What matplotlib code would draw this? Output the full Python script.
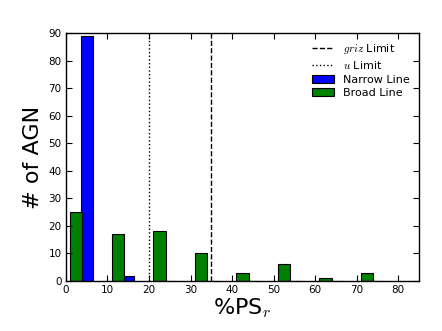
import matplotlib
matplotlib.use("Agg")
import matplotlib.pyplot as plt
import numpy as np

plt.rcParams['mathtext.fontset'] = 'cm'
plt.rcParams['font.family'] = 'DejaVu Sans'

bin_left = np.array([0, 10, 20, 30, 40, 50, 60, 70])
narrow_counts = [89, 2, 0, 0, 0, 0, 0, 0]
broad_counts = [25, 17, 18, 10, 3, 6, 1, 3]
griz_limit = 35
u_limit = 20

fig = plt.figure(figsize=(4.42, 3.31), dpi=100, facecolor='white')
ax = fig.add_axes([0.149, 0.151, 0.799, 0.749])

ax.bar(bin_left + 5.1, narrow_counts, width=2.8, color='#0000ff',
       edgecolor='black', linewidth=0.8, label='Narrow Line')
ax.bar(bin_left + 2.5, broad_counts, width=3.0, color='#008000',
       edgecolor='black', linewidth=0.8, label='Broad Line')

ax.axvline(griz_limit, color='black', linestyle='--', linewidth=1.0,
           label='$griz$ Limit')
ax.axvline(u_limit, color='black', linestyle=':', linewidth=1.0,
           label='$u$ Limit')

ax.set_xlim(0, 85)
ax.set_ylim(0, 90)
ax.set_xticks(np.arange(0, 81, 10))
ax.set_yticks(np.arange(0, 91, 10))
ax.tick_params(direction='in', top=True, right=True, length=4,
               labelsize=7.5, pad=3)
for s in ax.spines.values():
    s.set_linewidth(1.0)

ax.set_xlabel('%PS$_r$', fontsize=16, labelpad=1)
ax.set_ylabel('# of AGN', fontsize=16, labelpad=4)

handles, labels = ax.get_legend_handles_labels()
want = ['$griz$ Limit', '$u$ Limit', 'Narrow Line', 'Broad Line']
hs = [handles[labels.index(w)] for w in want]
ax.legend(hs, want, loc='upper right', frameon=False, fontsize=8,
          handlelength=2.0, labelspacing=0.3, borderaxespad=0.4)

fig.savefig('out.png', dpi=100, facecolor='white')
